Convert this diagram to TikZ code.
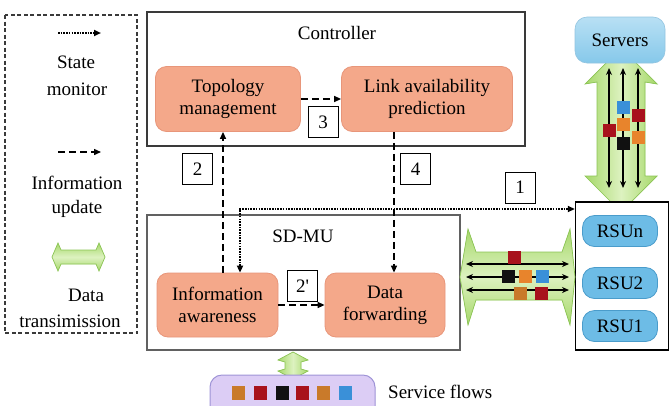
\documentclass[tikz,border=0pt]{standalone}
\usepackage{fontspec}
\setmainfont{Liberation Serif}
\usetikzlibrary{arrows.meta}

\definecolor{procfill}{HTML}{F4A88A}
\definecolor{procedge}{HTML}{E8967A}
\definecolor{rsufill}{HTML}{6DBCE6}
\definecolor{rsuedge}{HTML}{4A9CCB}
\definecolor{srvtop}{HTML}{B8E0F4}
\definecolor{srvbot}{HTML}{86C8EA}
\definecolor{gdark}{HTML}{A6D86A}
\definecolor{glight}{HTML}{DDF2C0}
\definecolor{gedge}{HTML}{8CC456}
\definecolor{flowfill}{HTML}{DCCDF5}
\definecolor{flowedge}{HTML}{9E93D6}
\definecolor{pkred}{HTML}{A8121C}
\definecolor{pkorange}{HTML}{E8842C}
\definecolor{pkbrown}{HTML}{C97A2A}
\definecolor{pkblue}{HTML}{3A90D8}
\definecolor{pkblack}{HTML}{111111}
\definecolor{framegray}{HTML}{3A3A3A}

\tikzset{
  txt/.style={font=\fontsize{19}{21}\selectfont, inner sep=0pt, align=center},
  frame/.style={draw=framegray, line width=1.2pt, fill=white},
  proc/.style={txt, rounded corners=11pt, fill=procfill, draw=procedge, line width=0.8pt},
  rsu/.style={txt, rounded corners=12pt, fill=rsufill, draw=rsuedge, line width=0.8pt,
    minimum width=75pt, minimum height=31pt},
  numbox/.style={txt, draw=black, fill=white, line width=0.9pt,
    minimum width=30pt, minimum height=31pt},
  upd/.style={line width=1.4pt, dash pattern=on 7pt off 4pt, -{Triangle[length=7pt,width=6pt]}},
  mon/.style={line width=1.8pt, dash pattern=on 1.6pt off 1.1pt},
  fat/.style={draw=gedge, line width=0.7pt, fill=gdark},
  fath/.style={fat, top color=gdark, bottom color=gdark, middle color=glight},
  fatv/.style={fat, left color=gdark, right color=gdark, middle color=glight},
  blk/.style={line width=1.5pt, {Stealth[length=7pt,width=6pt]}-{Stealth[length=7pt,width=6pt]}}
}

% a small coloured packet centred at (#1,#2)
\newcommand{\packet}[3]{\fill[#3] (#1-6.5,#2-6.5) rectangle (#1+6.5,#2+6.5);}

\begin{document}
\begin{tikzpicture}[x=1pt,y=-1pt]
\useasboundingbox (0,0) rectangle (671,405);
\clip (0,0) rectangle (671,405);

% ---------- legend ----------
\draw[line width=1.1pt, dash pattern=on 4pt off 2.5pt, draw=framegray] (5,15) rectangle (137,333);
\coordinate (lm1) at (58,33);
\coordinate (lm2) at (101,33);
\draw[mon, -{Triangle[length=7pt,width=6pt]}] (lm1) -- (lm2);
\node[txt] (lstate) at (76,62) {State};
\node[txt] (lmon) at (77,89) {monitor};
\coordinate (lu1) at (58,152);
\coordinate (lu2) at (101,152);
\draw[upd] (lu1) -- (lu2);
\node[txt] (linfo) at (77,183) {Information};
\node[txt] (lupd) at (77,209) {update};
\path[fath] (52,257) -- (58,243) -- (61,250) -- (96,250) -- (99,243) -- (105,257)
  -- (99,271) -- (96,264) -- (61,264) -- (58,271) -- cycle;
\node[txt] (ldata) at (86,295) {Data};
\node[txt] (ltrans) at (70,321) {transimission};

% ---------- controller ----------
\node[frame, minimum width=378pt, minimum height=134pt, inner sep=0pt] (ctrl) at (336,79) {};
\node[txt] (ctrltitle) at (337,33) {Controller};
\node[proc, minimum width=145pt, minimum height=65pt] (topo) at (228,99) {Topology\\[1pt]management};
\node[proc, minimum width=171pt, minimum height=65pt] (link) at (427,99) {Link availability\\[1pt]prediction};

% ---------- SD-MU ----------
\node[frame, draw=framegray!80, minimum width=313pt, minimum height=135pt, inner sep=0pt] (sdmu) at (303.5,282.5) {};
\node[txt] (sdmutitle) at (303,236) {SD-MU};
\node[proc, minimum width=121pt, minimum height=64pt] (info) at (217.5,305) {Information\\[1pt]awareness};
\node[proc, minimum width=120pt, minimum height=64pt] (fwd) at (385,305) {Data\\[1pt]forwarding};

% ---------- vertical data link to the servers ----------
\path[fatv] (621,48) -- (657,84) -- (645,82) -- (645,176) -- (657,176) -- (621,212)
  -- (585,176) -- (597,176) -- (597,82) -- (585,84) -- cycle;
\foreach \x in {609,623,638}
  \draw[blk] (\x,68) -- (\x,188);
\packet{609}{130}{pkred}
\packet{623}{107}{pkblue}
\packet{623}{124}{pkorange}
\packet{623}{143}{pkblack}
\packet{638}{115}{pkred}
\packet{638}{137}{pkorange}

% ---------- servers and RSUs ----------
\node[txt, rounded corners=12pt, top color=srvtop, bottom color=srvbot, draw=rsuedge!60,
  line width=0.6pt, minimum width=90pt, minimum height=46pt] (servers) at (620,40) {Servers};
\node[draw=black, line width=1.4pt, fill=white, minimum width=93pt, minimum height=148pt,
  inner sep=0pt] (rsubox) at (622,276) {};
\node[rsu] (rsun) at (620,231) {RSUn};
\node[rsu] (rsu2) at (620,283) {RSU2};
\node[rsu] (rsu1) at (620,326) {RSU1};

% ---------- horizontal data link SD-MU <-> RSUs ----------
\path[fath] (460,277) -- (468,229) -- (476,252) -- (562,252) -- (570,229) -- (575,277)
  -- (570,325) -- (562,300) -- (476,300) -- (468,325) -- cycle;
\foreach \y in {264,277,290}
  \draw[blk] (466,\y) -- (569,\y);
\packet{514}{257}{pkred}
\packet{508}{276}{pkblack}
\packet{525}{276}{pkorange}
\packet{542}{276}{pkblue}
\packet{520}{293}{pkbrown}
\packet{541}{293}{pkred}

% ---------- information updates ----------
\draw[upd] (topo.east) -- (link.west);
\coordinate (c2) at (223,0);
\draw[upd] (info.north -| c2) -- (topo.south -| c2);
\coordinate (c4) at (394,0);
\draw[upd] (link.south -| c4) -- (fwd.north -| c4);
\draw[upd] (info.east) -- (fwd.west);

% ---------- state monitor ----------
\coordinate (c1) at (240,209);
\draw[mon, {Triangle[length=7pt,width=6pt]}-{Triangle[length=7pt,width=6pt]}]
  (info.north -| c1) -- (c1) -- (rsubox.west |- c1);

% ---------- step numbers ----------
\node[numbox] (n3) at (323,122) {3};
\node[numbox] (n2) at (197.5,169) {2};
\node[numbox] (n4) at (415.5,169) {4};
\node[numbox] (n1) at (520,187.5) {1};
\node[numbox] (n2p) at (302.5,286) {2\textquotesingle};

% ---------- service flows ----------
\path[fatv] (293,352) -- (308,360) -- (301,362) -- (301,369) -- (308,371) -- (293,379)
  -- (278,371) -- (285,369) -- (285,362) -- (278,360) -- cycle;
\node[rounded corners=12pt, fill=flowfill, draw=flowedge, line width=1pt,
  minimum width=165pt, minimum height=46pt, inner sep=0pt] (flows) at (292.5,398) {};
\fill[pkbrown] (232,386) rectangle (245,400);
\fill[pkred]   (254,386) rectangle (267,400);
\fill[pkblack] (276,386) rectangle (289,400);
\fill[pkred]   (296,386) rectangle (309,400);
\fill[pkbrown] (317,386) rectangle (330,400);
\fill[pkblue]  (339,386) rectangle (352,400);
\node[txt, anchor=west] (flowtext) at (388,392) {Service flows};
\end{tikzpicture}
\end{document}
